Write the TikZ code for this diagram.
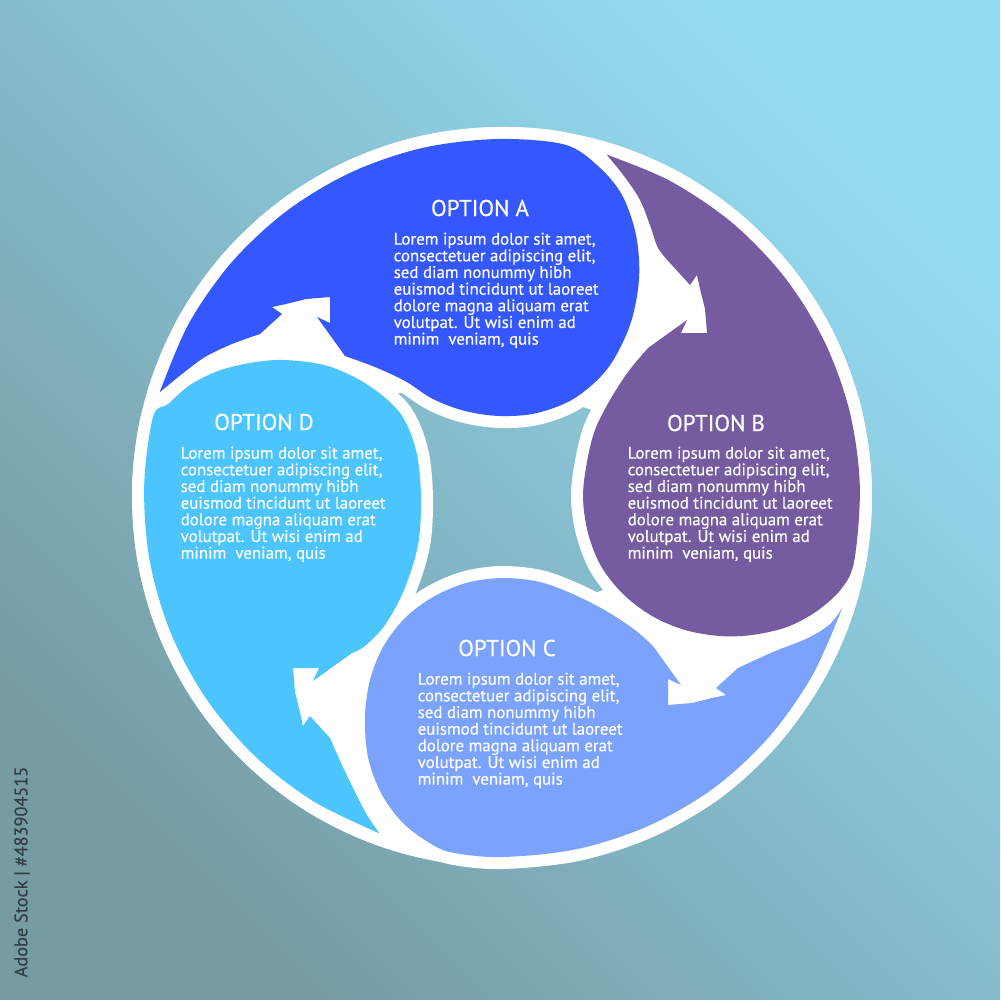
\documentclass[tikz,border=0pt]{standalone}
\usepackage{fontspec}
\setmainfont{PT Sans}
\newfontfamily\txtfont{PT Sans}[FakeBold=0.35]
\definecolor{colA}{RGB}{53,87,254}
\definecolor{colB}{RGB}{117,92,160}
\definecolor{colC}{RGB}{123,163,253}
\definecolor{colD}{RGB}{76,196,254}
\definecolor{bgLL}{RGB}{118,155,162}
\definecolor{bgUR}{RGB}{148,220,244}
\definecolor{idcol}{RGB}{50,62,68}
\newcommand\loremtext{Lorem ipsum dolor sit amet,\\consectetuer adipiscing elit,\\sed diam nonummy hibh\\euismod tincidunt ut laoreet\\dolore magna aliquam erat\\volutpat. Ut wisi enim ad\\minim\ \ veniam, quis}
\newcommand\pathA{plot[smooth,tension=0.55] coordinates {
 ({502+358*cos(197)},{497+358*sin(197)}) ({502+358*cos(209)},{497+358*sin(209)})
 ({502+358*cos(221)},{497+358*sin(221)}) ({502+358*cos(233)},{497+358*sin(233)})
 ({502+358*cos(245)},{497+358*sin(245)}) ({502+358*cos(257)},{497+358*sin(257)})
 ({502+358*cos(269)},{497+358*sin(269)}) ({502+358*cos(280)},{497+358*sin(280)})
 (598,166) (622,195) (636,235) (639,279) (630,325) (608,368) (575,398) (537,413) (500,416)
 (465,411) (433,399) (405,381) (375,367) (345,356)}
 -- (317,317) -- (330,323) -- (330,297) -- (306,299) -- (286,304) -- (272,307) -- (282,314) -- (260,334)
 -- plot[smooth,tension=0.55] coordinates {(260,334) (232,344) (205,357) (182,374)
 ({502+358*cos(197)},{497+358*sin(197)})} -- cycle}
\newcommand\pathB{plot[smooth,tension=0.55] coordinates {
 ({502+358*cos(287)},{497+358*sin(287)}) ({502+358*cos(298)},{497+358*sin(298)})
 ({502+358*cos(310)},{497+358*sin(310)}) ({502+358*cos(322)},{497+358*sin(322)})
 ({502+358*cos(334)},{497+358*sin(334)}) ({502+358*cos(346)},{497+358*sin(346)})
 ({502+358*cos(358)},{497+358*sin(358)}) ({502+358*cos(370)},{497+358*sin(370)})
 (842,588) (817,611) (787,627) (752,635) (720,636) (685,630) (652,616) (623,594) (601,566)
 (588,533) (583,497) (587,462) (595,430) (610,400) (628,372) (648,348)}
 -- (687,320) -- (681,333) -- (707,333) -- (705,309) -- (700,289) -- (697,275) -- (690,285) -- (670,263)
 -- plot[smooth,tension=0.55] coordinates {(670,263) (658,248) (651,228) (640,200) (624,176)
 ({502+358*cos(287)},{497+358*sin(287)})} -- cycle}
\newcommand\pathC{plot[smooth,tension=0.55] coordinates {
 ({502+358*cos(18)},{497+358*sin(18)}) ({502+358*cos(30)},{497+358*sin(30)})
 ({502+359*cos(42)},{497+359*sin(42)}) ({502+360*cos(54)},{497+360*sin(54)})
 ({502+360*cos(66)},{497+360*sin(66)}) ({502+360*cos(78)},{497+360*sin(78)})
 ({502+360*cos(90)},{497+360*sin(90)}) ({502+359*cos(98)},{497+359*sin(98)})
 (428,842) (402,822) (381,793) (368,757) (365,717) (370,680) (383,647) (405,618) (433,597)
 (466,583) (502,578) (540,582) (575,595) (608,612) (635,630) (653,646)}
 -- (681,685) -- (668,679) -- (668,705) -- (692,703) -- (712,698) -- (726,695) -- (716,688) -- (738,668)
 -- plot[smooth,tension=0.55] coordinates {(738,668) (773,652) (808,638) (830,624)
 ({502+358*cos(18)},{497+358*sin(18)})} -- cycle}
\newcommand\pathD{plot[smooth,tension=0.55] coordinates {
 ({502+358*cos(110)},{497+358*sin(110)}) ({502+358*cos(122)},{497+358*sin(122)})
 ({502+358*cos(134)},{497+358*sin(134)}) ({502+358*cos(146)},{497+358*sin(146)})
 ({502+358*cos(158)},{497+358*sin(158)}) ({502+358*cos(170)},{497+358*sin(170)})
 ({502+358*cos(182)},{497+358*sin(182)}) ({502+358*cos(193)},{497+358*sin(193)})
 (168,404) (190,385) (218,371) (250,363) (284,360) (328,366) (368,385) (400,413) (416,450)
 (421,497) (418,545) (404,590) (385,625) (365,646) (352,653)}
 -- (313,681) -- (319,668) -- (293,668) -- (295,692) -- (300,712) -- (303,726) -- (310,716) -- (330,738)
 -- plot[smooth,tension=0.55] coordinates {(330,738) (342,765) (355,792) (367,815)
 ({502+358*cos(110)},{497+358*sin(110)})} -- cycle}
\begin{document}
\begin{tikzpicture}[x=0.1mm,y=-0.1mm,
  halo/.style={draw=white,line width=2.4mm,line join=round},
  ttl/.style={text=white,font=\txtfont\fontsize{6.5}{7}\selectfont,inner sep=0pt},
  body/.style={text=white,font=\txtfont\fontsize{4.8}{4.74}\selectfont,align=left,inner sep=0pt,anchor=north west},
  bgshade/.style={left color=bgLL,right color=bgUR,shading angle=135}]
\useasboundingbox (0,0) rectangle (1000,1000);
\shade[bgshade] (0,0) rectangle (1000,1000);
% white disk
\fill[white] (502,497) circle[radius=37mm];
% central hole
\begin{scope}
\clip (393,394) -- (502,380) -- (592,410) -- (640,497) -- (603,590) -- (502,625) -- (412,606) -- (370,497) -- cycle;
\shade[bgshade] (0,0) rectangle (1000,1000);
\end{scope}
% white borders
\draw[halo] \pathA;
\draw[halo] \pathB;
\draw[halo] \pathC;
\draw[halo] \pathD;
% segments
\fill[colA] \pathA;
\fill[colB] \pathB;
\fill[colC] \pathC;
\fill[colD] \pathD;
% texts
\node[ttl] (tA) at (480,208) {OPTION A};
\node[body] (bA) at (393,232) {\loremtext};
\node[ttl] (tB) at (716,423) {OPTION B};
\node[body] (bB) at (627,446) {\loremtext};
\node[ttl] (tC) at (507,648) {OPTION C};
\node[body] (bC) at (417,672) {\loremtext};
\node[ttl] (tD) at (264,422) {OPTION D};
\node[body] (bD) at (180,446) {\loremtext};
\node[rotate=90,text=idcol,font=\txtfont\fontsize{5.2}{6}\selectfont,inner sep=0pt] (sid) at (22,872) {Adobe Stock | \#483904515};
\end{tikzpicture}
\end{document}
